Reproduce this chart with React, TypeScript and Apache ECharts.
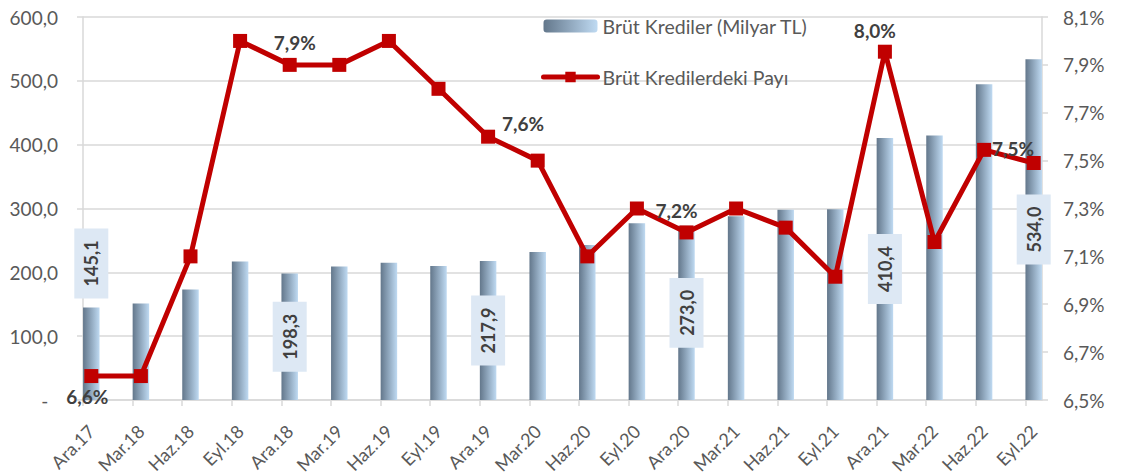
import React, { useEffect, useRef } from 'react';
import * as echarts from 'echarts';

const categories = ['Ara.17', 'Mar.18', 'Haz.18', 'Eyl.18', 'Ara.18', 'Mar.19', 'Haz.19', 'Eyl.19', 'Ara.19', 'Mar.20', 'Haz.20', 'Eyl.20', 'Ara.20', 'Mar.21', 'Haz.21', 'Eyl.21', 'Ara.21', 'Mar.22', 'Haz.22', 'Eyl.22'];
const grossLoans = [145.1, 151, 173, 217, 198.3, 209, 215, 210, 217.9, 232, 243, 277, 273.0, 288, 298, 299, 410.4, 414.5, 494.5, 534.0];
const loanShare = [6.6, 6.6, 7.1, 8.0, 7.9, 7.9, 8.0, 7.8, 7.6, 7.5, 7.1, 7.3, 7.2, 7.3, 7.22, 7.015, 7.955, 7.16, 7.545, 7.49];
const loanLabelIdx = [0, 4, 8, 12, 16, 19];
const shareLabelIdx = [0, 4, 8, 12, 16, 18];
const loanName = 'Brüt Krediler (Milyar TL)';
const shareName = 'Brüt Kredilerdeki Payı';

const FONT = 'Lato, "Noto Sans", sans-serif';
const GRID_COLOR = '#d9d9d9';
const AXIS_TEXT = '#595959';
const BOLD_TEXT = '#404040';
const LINE_COLOR = '#c00000';

const fmtNum = (v: number) => v.toFixed(1).replace('.', ',');

const shareLabelStyle: Record<number, any> = {
  0: { position: 'bottom', distance: 4, offset: [-4, 0] },
  4: { position: 'top', distance: 6, offset: [5, 0] },
  8: { position: 'right', distance: 7, offset: [0, -13] },
  12: { position: 'top', distance: 5, offset: [-10, 0] },
  16: { position: 'top', distance: 5, offset: [-10, 0] },
  18: { position: 'right', distance: 1, offset: [0, -1] },
};

export default function App() {
  const ref = useRef<HTMLDivElement>(null);
  useEffect(() => {
    document.body.style.margin = '0';
    if (!ref.current) return;
    const chart = echarts.init(ref.current, null, { renderer: 'svg' });

    const barColor = new echarts.graphic.LinearGradient(0, 0, 1, 0, [
      { offset: 0, color: '#63778b' },
      { offset: 1, color: '#bfdaf2' },
    ]);

    const barLabelBase = {
      show: true,
      rotate: 90,
      color: BOLD_TEXT,
      fontFamily: FONT,
      fontWeight: 'bold',
      fontSize: 18,
      lineHeight: 18,
      backgroundColor: '#dde8f4',
      padding: [8, 12],
      formatter: (p: any) => fmtNum(p.value),
    };

    const barData = grossLoans.map((v, i) => {
      if (!loanLabelIdx.includes(i)) return { value: v };
      if (i === 0) {
        return { value: v, label: { ...barLabelBase, position: 'top', distance: 9, align: 'left', verticalAlign: 'middle' } };
      }
      return { value: v, label: { ...barLabelBase, position: 'inside', align: 'center', verticalAlign: 'middle' } };
    });

    const lineData = loanShare.map((v, i) => {
      if (!shareLabelIdx.includes(i)) return { value: v };
      return {
        value: v,
        label: {
          show: true,
          color: BOLD_TEXT,
          fontFamily: FONT,
          fontWeight: 'bold',
          fontSize: 19,
          formatter: (p: any) => fmtNum(p.value) + '%',
          ...shareLabelStyle[i],
        },
      };
    });

    const top = 17;
    const bottom = 75;

    chart.setOption({
      animation: false,
      textStyle: { fontFamily: FONT },
      legend: {
        orient: 'vertical',
        left: 536,
        top: 11,
        itemWidth: 54,
        itemHeight: 13,
        itemGap: 31,
        textStyle: { color: AXIS_TEXT, fontSize: 19.5, fontFamily: FONT },
        data: [
          { name: loanName },
          { name: shareName, lineStyle: { width: 5, cap: 'round', color: LINE_COLOR } },
        ],
      },
      grid: [
        { left: 83, right: 79, top, bottom, outerBoundsMode: 'none' },
        { left: 83, right: 95.6, top, bottom, outerBoundsMode: 'none' },
        { left: 91.3, right: 87.3, top, bottom, outerBoundsMode: 'none' },
      ],
      xAxis: [
        {
          gridIndex: 0,
          type: 'category',
          data: categories,
          boundaryGap: false,
          axisLine: { show: true, lineStyle: { color: GRID_COLOR, width: 1.5 } },
          axisTick: { show: false },
          axisLabel: { show: false },
          splitLine: { show: false },
        },
        {
          gridIndex: 1,
          type: 'category',
          data: categories,
          boundaryGap: false,
          axisLine: { show: false },
          axisTick: { show: true, length: 6, interval: 0, lineStyle: { color: GRID_COLOR, width: 1.5 } },
          axisLabel: { show: false },
          splitLine: { show: false },
        },
        {
          gridIndex: 2,
          type: 'category',
          data: categories,
          boundaryGap: false,
          axisLine: { show: false },
          axisTick: { show: false },
          axisLabel: {
            show: true,
            interval: 0,
            rotate: 45,
            margin: 28,
            color: AXIS_TEXT,
            fontSize: 18,
            fontFamily: FONT,
          },
          splitLine: { show: false },
        },
      ],
      yAxis: [
        {
          gridIndex: 0,
          type: 'value',
          position: 'left',
          min: 0,
          max: 600,
          interval: 100,
          axisLine: { show: true, lineStyle: { color: GRID_COLOR, width: 1.5 } },
          axisTick: { show: true, length: 6, lineStyle: { color: GRID_COLOR, width: 1.5 } },
          axisLabel: {
            margin: 25,
            color: AXIS_TEXT,
            fontSize: 19,
            fontFamily: FONT,
            formatter: (v: number) => (v === 0 ? '-  ' : fmtNum(v)),
          },
          splitLine: { show: true, lineStyle: { color: GRID_COLOR, width: 1.5 } },
        },
        {
          gridIndex: 0,
          type: 'value',
          position: 'right',
          min: 6.5,
          max: 8.1,
          interval: 0.2,
          axisLine: { show: true, lineStyle: { color: GRID_COLOR, width: 1.5 } },
          axisTick: { show: true, length: 6, lineStyle: { color: GRID_COLOR, width: 1.5 } },
          axisLabel: {
            margin: 21,
            color: AXIS_TEXT,
            fontSize: 19,
            fontFamily: FONT,
            formatter: (v: number) => fmtNum(v) + '%',
          },
          splitLine: { show: false },
        },
        { gridIndex: 1, type: 'value', min: 0, max: 600, show: false },
        { gridIndex: 2, type: 'value', min: 0, max: 600, show: false },
        { gridIndex: 2, type: 'value', min: 6.5, max: 8.1, show: false },
      ],
      series: [
        {
          name: loanName,
          type: 'bar',
          xAxisIndex: 2,
          yAxisIndex: 3,
          barWidth: 16.5,
          clip: false,
          itemStyle: { color: barColor },
          data: barData,
          z: 2,
        },
        {
          name: shareName,
          type: 'line',
          xAxisIndex: 2,
          yAxisIndex: 4,
          clip: false,
          symbol: 'rect',
          symbolSize: 14,
          lineStyle: { color: LINE_COLOR, width: 5 },
          itemStyle: { color: LINE_COLOR },
          data: lineData,
          z: 3,
        },
      ],
    });
    return () => chart.dispose();
  }, []);
  return <div ref={ref} style={{ width: 1121, height: 475 }} />;
}
